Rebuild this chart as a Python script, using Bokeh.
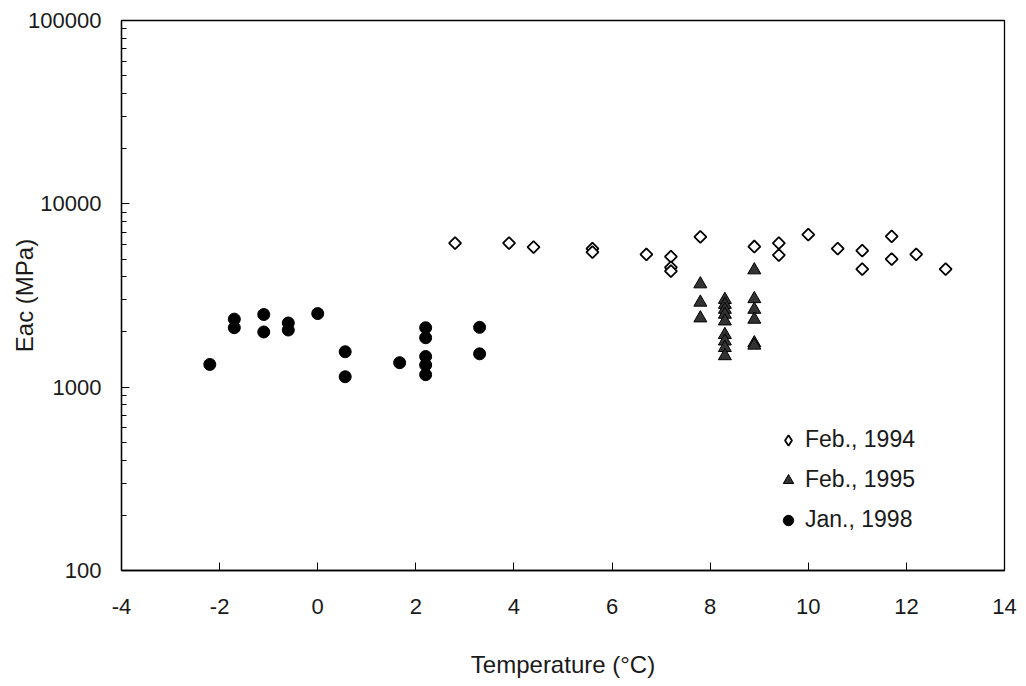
from bokeh.plotting import figure
from bokeh.models import (FixedTicker, NumeralTickFormatter, Range1d, Legend,
                          LegendItem, ColumnDataSource)
from bokeh.embed import file_html
from bokeh.resources import INLINE
import math

# Temperature (deg C) and back-calculated modulus Eac (MPa) per survey
feb94_temp = [2.8, 3.9, 4.4, 5.6, 5.6, 6.7, 7.2, 7.2, 7.2, 7.8, 8.9, 9.4, 9.4,
              10.0, 10.6, 11.1, 11.1, 11.7, 11.7, 12.2, 12.8]
feb94_eac = [6100, 6100, 5800, 5700, 5450, 5300, 5150, 4500, 4300, 6600, 5850,
             6100, 5250, 6800, 5700, 5550, 4400, 6650, 5000, 5300, 4400]

feb95_temp = [7.8, 7.8, 7.8,
              8.3, 8.3, 8.3, 8.3, 8.3, 8.3, 8.3, 8.3, 8.3,
              8.9, 8.9, 8.9, 8.9, 8.9, 8.9]
feb95_eac = [3650, 2900, 2380,
             3000, 2820, 2650, 2490, 2290, 1930, 1780, 1640, 1480,
             4350, 3030, 2650, 2340, 1740, 1690]

jan98_temp = [-2.2, -1.7, -1.7, -1.1, -1.1, -0.6, -0.6, 0.0, 0.56, 0.56, 1.67,
              2.2, 2.2, 2.2, 2.2, 2.2, 3.3, 3.3]
jan98_eac = [1330, 2350, 2110, 2490, 2000, 2240, 2050, 2520, 1560, 1140, 1360,
             2110, 1860, 1470, 1320, 1170, 2120, 1520]

series_names = ["Feb., 1994", "Feb., 1995", "Jan., 1998"]

x_ticks = [-4, -2, 0, 2, 4, 6, 8, 10, 12, 14]
y_ticks = [100, 1000, 10000, 100000]

FONT = "Liberation Sans"
INK = "#1a1a1a"

p = figure(width=1026, height=686, y_axis_type="log",
           x_range=Range1d(-4, 14), y_range=Range1d(100, 100000),
           output_backend="svg", toolbar_location=None,
           min_border_left=121, min_border_right=22,
           min_border_top=20, min_border_bottom=116)

p.background_fill_color = "white"
p.border_fill_color = "white"
p.outline_line_color = "black"
p.outline_line_width = 1.3
p.grid.visible = False

# x axis
p.xaxis.ticker = FixedTicker(ticks=x_ticks, minor_ticks=[])
p.xaxis.formatter = NumeralTickFormatter(format="0")
p.xaxis.axis_label = "Temperature (°C)"
p.xaxis.major_tick_in = 8
p.xaxis.major_tick_out = 0
p.xaxis.minor_tick_in = 0
p.xaxis.minor_tick_out = 0
p.xaxis.major_label_standoff = 28
p.xaxis.axis_label_standoff = 34

# y axis (log)
minor = [m * d for d in (100, 1000, 10000) for m in range(2, 10)]
p.yaxis.ticker = FixedTicker(ticks=y_ticks, minor_ticks=minor)
p.yaxis.formatter = NumeralTickFormatter(format="0")
p.yaxis.axis_label = "Eac (MPa)"
p.yaxis.major_tick_in = 8
p.yaxis.major_tick_out = 0
p.yaxis.minor_tick_in = 5
p.yaxis.minor_tick_out = 0
p.yaxis.major_label_standoff = 20
p.yaxis.axis_label_standoff = -13

for ax in (p.xaxis, p.yaxis):
    ax.axis_line_color = "black"
    ax.axis_line_width = 1.3
    ax.major_tick_line_color = "black"
    ax.minor_tick_line_color = "black"
    ax.major_label_text_font = FONT
    ax.major_label_text_font_size = "22px"
    ax.major_label_text_color = INK
    ax.axis_label_text_font = FONT
    ax.axis_label_text_font_size = "24px"
    ax.axis_label_text_font_style = "normal"
    ax.axis_label_text_color = INK

src94 = ColumnDataSource(dict(x=feb94_temp, y=feb94_eac))
src95 = ColumnDataSource(dict(x=feb95_temp, y=feb95_eac))
src98 = ColumnDataSource(dict(x=jan98_temp, y=jan98_eac))

# open diamonds drawn as squares turned 45 degrees
r94 = p.scatter("x", "y", source=src94, marker="square", angle=math.pi / 4,
                size=8.5, fill_color="white", line_color="black", line_width=1.8)
r95 = p.scatter("x", "y", source=src95, marker="triangle", size=13,
                fill_color="#333333", line_color="black", line_width=1)
r98 = p.scatter("x", "y", source=src98, marker="circle", size=12,
                fill_color="black", line_color="black", line_width=1)

# hidden diamond renderer that only supplies the legend swatch
# (legend swatches are never drawn rotated)
key94 = p.scatter("x", "y", source=src94, marker="diamond", size=12,
                  fill_color="white", line_color="black", line_width=1.8,
                  visible=False)

legend = Legend(items=[LegendItem(label=series_names[0], renderers=[key94]),
                       LegendItem(label=series_names[1], renderers=[r95]),
                       LegendItem(label=series_names[2], renderers=[r98])],
                location=(654, 37))
legend.border_line_color = None
legend.background_fill_alpha = 0
legend.padding = 0
legend.margin = 0
legend.spacing = 13
legend.glyph_width = 26
legend.glyph_height = 26
legend.label_height = 26
legend.label_standoff = 4
legend.label_text_font = FONT
legend.label_text_font_size = "23px"
legend.label_text_color = INK
p.add_layout(legend, "center")

open("out.html", "w").write(file_html(p, INLINE))
